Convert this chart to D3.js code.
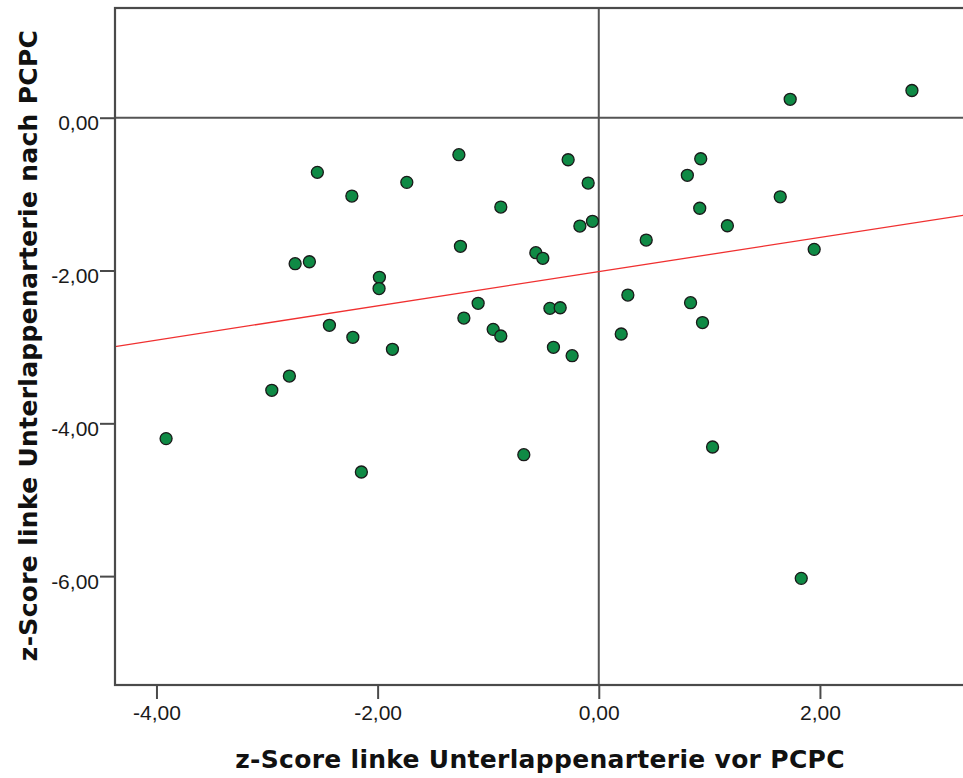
<!DOCTYPE html>
<html>
<head>
<meta charset="utf-8">
<script src="https://cdn.jsdelivr.net/npm/d3@7"></script>
<style>
  html, body { margin: 0; padding: 0; background: #fff; }
  svg { display: block; }
</style>
</head>
<body>
<svg id="chart" width="963" height="778"></svg>
<script>
// z-scores of the left lower-lobe artery, before (x) and after (y) PCPC
const zVor = [
  -3.913, -2.957, -2.798, -2.545, -2.746, -2.617, -2.436, -2.233, -2.224, -1.984,
  -1.987, -2.147, -1.866, -1.736, -1.265, -1.251, -1.220, -1.091, -0.955, -0.886,
  -0.886, -0.678, -0.569, -0.506, -0.442, -0.349, -0.410, -0.277, -0.241, -0.171,
  -0.096, -0.057, 0.203, 0.263, 0.429, 0.801, 0.830, 0.922, 0.913, 0.938,
  1.029, 1.163, 1.641, 1.731, 1.948, 1.831, 2.832
];
const zNach = [
  -4.200, -3.568, -3.381, -0.715, -1.911, -1.885, -2.717, -1.025, -2.874, -2.089,
  -2.236, -4.637, -3.031, -0.846, -0.484, -1.683, -2.622, -2.429, -2.770, -1.169,
  -2.857, -4.411, -1.767, -1.840, -2.495, -2.487, -3.005, -0.550, -3.115, -1.418,
  -0.855, -1.356, -2.831, -2.321, -1.601, -0.754, -2.421, -0.537, -1.185, -2.681,
  -4.310, -1.414, -1.035, 0.241, -1.723, -6.029, 0.356
];

// linear fit line (y = intercept + slope * x)
const fitIntercept = -2.015;
const fitSlope = 0.224;

const xTicks = [-4, -2, 0, 2];
const yTicks = [-6, -4, -2, 0];
const xDomain = [-4.375, 3.33];
const yDomain = [-7.425, 1.436];

const xTitle = "z-Score linke Unterlappenarterie vor PCPC";
const yTitle = "z-Score linke Unterlappenarterie nach PCPC";

const points = zVor.map((v, i) => ({ x: v, y: zNach[i] }));

const plot = { left: 115, top: 8, right: 967, bottom: 685 };
const frameColor = "#4a4a4a";

const svg = d3.select("#chart");

const x = d3.scaleLinear().domain(xDomain).range([plot.left, plot.right]);
const y = d3.scaleLinear().domain(yDomain).range([plot.bottom, plot.top]);

const locale = d3.formatLocale({ decimal: ",", thousands: ".", grouping: [3], currency: ["", " €"], minus: "-" });
const fmt = locale.format(".2f");

svg.append("defs").append("clipPath").attr("id", "plot-clip")
  .append("rect")
  .attr("x", plot.left).attr("y", plot.top)
  .attr("width", plot.right - plot.left).attr("height", plot.bottom - plot.top);

// reference lines at zero
svg.append("line")
  .attr("x1", plot.left).attr("x2", plot.right)
  .attr("y1", y(0)).attr("y2", y(0))
  .attr("stroke", "#555").attr("stroke-width", 2);
svg.append("line")
  .attr("x1", x(0)).attr("x2", x(0))
  .attr("y1", plot.top).attr("y2", plot.bottom)
  .attr("stroke", "#555").attr("stroke-width", 2);

// fit line
const body = svg.append("g").attr("clip-path", "url(#plot-clip)");
body.append("line")
  .attr("x1", x(xDomain[0])).attr("y1", y(fitIntercept + fitSlope * xDomain[0]))
  .attr("x2", x(xDomain[1])).attr("y2", y(fitIntercept + fitSlope * xDomain[1]))
  .attr("stroke", "#f03030").attr("stroke-width", 1.3);

// data points
body.selectAll("circle").data(points).join("circle")
  .attr("cx", d => x(d.x))
  .attr("cy", d => y(d.y))
  .attr("r", 6)
  .attr("fill", "#0f8a45")
  .attr("stroke", "#1a1a1a")
  .attr("stroke-width", 1.3);

// frame
svg.append("rect")
  .attr("x", plot.left).attr("y", plot.top)
  .attr("width", plot.right - plot.left).attr("height", plot.bottom - plot.top)
  .attr("fill", "none").attr("stroke", frameColor).attr("stroke-width", 2.2);

// axes
const xAxis = svg.append("g")
  .attr("transform", `translate(0,${plot.bottom})`)
  .call(d3.axisBottom(x).tickValues(xTicks).tickFormat(fmt).tickSize(14).tickPadding(6));
const yAxis = svg.append("g")
  .attr("transform", `translate(${plot.left},0)`)
  .call(d3.axisLeft(y).tickValues(yTicks).tickFormat(fmt).tickSize(15).tickPadding(1));

[xAxis, yAxis].forEach(a => {
  a.select(".domain").remove();
  a.selectAll(".tick line").attr("stroke", frameColor).attr("stroke-width", 2);
  a.selectAll(".tick text")
    .attr("fill", "#1a1a1a")
    .style("font-family", "'Liberation Sans', Arial, sans-serif")
    .style("font-size", "21px");
});
yAxis.selectAll(".tick text").attr("dy", "0.72em").attr("y", -3);

// axis titles
const titleStyle = sel => sel
  .attr("text-anchor", "middle")
  .style("font-family", "'DejaVu Sans', Verdana, sans-serif")
  .style("font-weight", "bold")
  .style("font-size", "25px")
  .style("letter-spacing", "0.3px")
  .attr("fill", "#111");

svg.append("text")
  .attr("x", (plot.left + plot.right) / 2 - 1)
  .attr("y", 768)
  .call(titleStyle)
  .text(xTitle);

svg.append("text")
  .attr("transform", `translate(37,${(plot.top + plot.bottom) / 2 - 1}) rotate(-90)`)
  .call(titleStyle)
  .text(yTitle);
</script>
</body>
</html>
